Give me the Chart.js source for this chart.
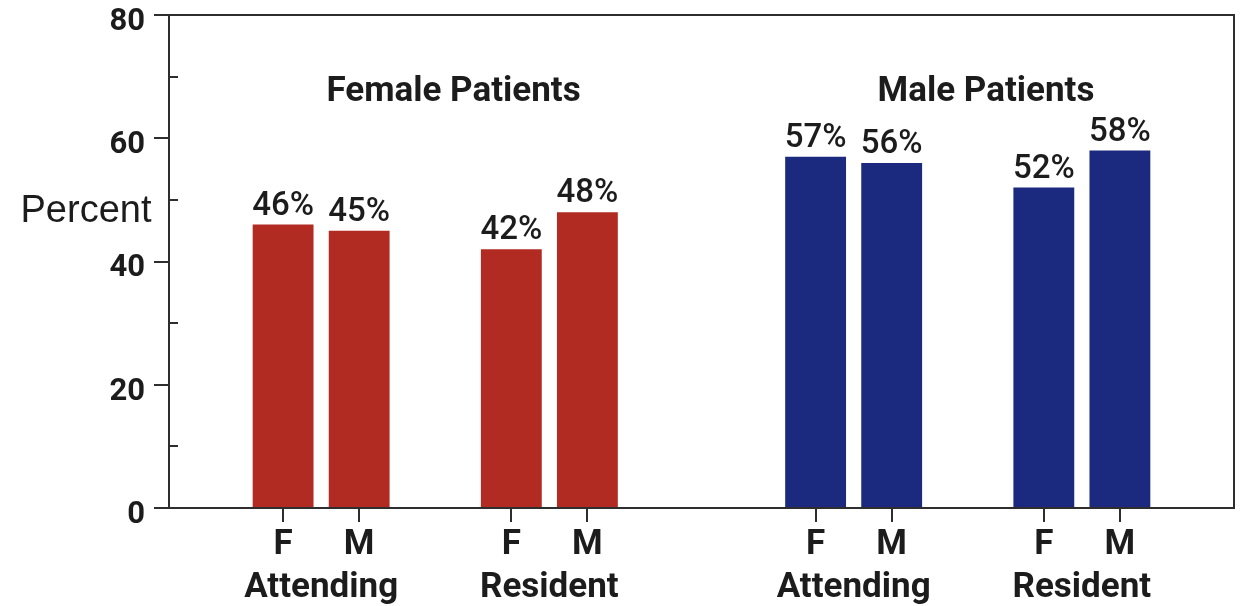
<!DOCTYPE html>
<html>
<head>
<meta charset="utf-8">
<script src="https://cdn.jsdelivr.net/npm/chart.js@4"></script>
<style>
  html, body { margin: 0; padding: 0; background: #ffffff; }
  #wrap { width: 1241px; height: 606px; }
</style>
</head>
<body>
<div id="wrap"><canvas id="chart" width="1241" height="606"></canvas></div>
<script>
// Patient groups, physician roles and physician sex
const patientGroups = ['Female Patients', 'Male Patients'];
const roles = ['Attending', 'Resident'];
const physicianSex = ['F', 'M'];

// Percent values: [Attending F, Attending M, Resident F, Resident M]
const femalePatientValues = [46, 45, 42, 48];
const malePatientValues = [57, 56, 52, 58];

const yTicks = [0, 20, 40, 60, 80];
const yMinorTicks = [10, 30, 50, 70];

const groupColors = ['#B22B23', '#1B2A7E'];
const inkColor = '#1c1c1c';
const axisColor = '#2e2e2e';
const boldFont = 'Roboto, "Liberation Sans", Arial, sans-serif';

// Build the category slots: gap, F, M, gap, F, M, gap | gap, F, M, gap, F, M, gap
const slotLabels = [];
const slotGroup = [];
const slotRole = [];
const seriesValues = [femalePatientValues, malePatientValues];
const datasetData = patientGroups.map(() => []);
patientGroups.forEach((g, gi) => {
  roles.forEach((r, ri) => {
    slotLabels.push(''); slotGroup.push(null); slotRole.push(null);
    datasetData.forEach(d => d.push(null));
    physicianSex.forEach((s, si) => {
      slotLabels.push(s); slotGroup.push(gi); slotRole.push(ri);
      datasetData.forEach((d, di) => d.push(di === gi ? seriesValues[gi][ri * 2 + si] : null));
    });
  });
  slotLabels.push(''); slotGroup.push(null); slotRole.push(null);
  datasetData.forEach(d => d.push(null));
});

// Extra drawing: frame, minor ticks, value labels, role labels, group titles, axis title
const decorations = {
  id: 'decorations',
  afterDraw(chart) {
    const { ctx, chartArea: a, scales: { x, y } } = chart;
    ctx.save();
    // frame top and right
    ctx.strokeStyle = axisColor;
    ctx.lineWidth = 2;
    ctx.beginPath();
    ctx.moveTo(a.left, a.top);
    ctx.lineTo(a.right, a.top);
    ctx.lineTo(a.right, a.bottom);
    ctx.stroke();
    // minor ticks pointing inward
    ctx.beginPath();
    yMinorTicks.forEach(v => {
      const py = Math.round(y.getPixelForValue(v));
      ctx.moveTo(a.left, py);
      ctx.lineTo(a.left + 9, py);
    });
    ctx.stroke();

    // value labels above bars
    ctx.fillStyle = inkColor;
    ctx.textAlign = 'center';
    ctx.textBaseline = 'alphabetic';
    ctx.font = '500 33px ' + boldFont;
    chart.data.datasets.forEach((ds, di) => {
      const meta = chart.getDatasetMeta(di);
      ds.data.forEach((v, i) => {
        if (v === null) return;
        const bar = meta.data[i];
        ctx.fillText(v + '%', bar.x, bar.y - 10);
      });
    });

    // role labels under each F/M pair
    ctx.font = 'bold 35px ' + boldFont;
    patientGroups.forEach((g, gi) => {
      roles.forEach((r, ri) => {
        const idx = slotLabels.map((l, i) => i).filter(i => slotGroup[i] === gi && slotRole[i] === ri);
        const cx = (x.getPixelForValue(idx[0]) + x.getPixelForValue(idx[idx.length - 1])) / 2;
        ctx.fillText(r, cx, 597);
      });
    });

    // group titles
    ctx.font = 'bold 35px ' + boldFont;
    patientGroups.forEach((g, gi) => {
      const idx = slotLabels.map((l, i) => i).filter(i => slotGroup[i] === gi);
      const mid = idx.reduce((s, i) => s + i, 0) / idx.length;
      ctx.fillText(g, x.getPixelForValue(mid + 0.24), y.getPixelForValue(66));
    });

    // axis title
    ctx.font = '38px "Liberation Sans", Arial, sans-serif';
    ctx.fillText('Percent', 86, 222);
    ctx.restore();
  }
};

new Chart(document.getElementById('chart'), {
  type: 'bar',
  data: {
    labels: slotLabels,
    datasets: patientGroups.map((g, gi) => ({
      label: g,
      data: datasetData[gi],
      backgroundColor: groupColors[gi],
      borderWidth: 0,
      barPercentage: 0.8,
      categoryPercentage: 1.0,
      grouped: false
    }))
  },
  options: {
    responsive: false,
    animation: false,
    events: [],
    layout: { padding: { top: 15, right: 7, left: 0, bottom: 0 } },
    plugins: { legend: { display: false }, tooltip: { enabled: false } },
    scales: {
      x: {
        offset: true,
        grid: {
          offset: false,
          drawOnChartArea: false,
          tickLength: 14,
          lineWidth: 2,
          color: ctx => (ctx.tick && ctx.tick.label) ? axisColor : 'rgba(0,0,0,0)'
        },
        border: { display: true, color: axisColor, width: 2 },
        ticks: {
          autoSkip: false,
          maxRotation: 0,
          padding: 2,
          color: inkColor,
          font: { family: boldFont, size: 35, weight: 'bold' }
        },
        afterFit: s => { s.height = 98; s.paddingLeft = 0; s.paddingRight = 0; }
      },
      y: {
        min: 0,
        max: 80,
        afterBuildTicks: s => { s.ticks = yTicks.map(v => ({ value: v })); },
        grid: { drawOnChartArea: false, tickLength: 15, lineWidth: 2, color: axisColor },
        border: { display: true, color: axisColor, width: 2 },
        ticks: {
          padding: 9,
          labelOffset: 7,
          color: inkColor,
          font: { family: boldFont, size: 31, weight: 'bold' }
        },
        afterFit: s => { s.width = 169; s.paddingTop = 0; s.paddingBottom = 0; }
      }
    }
  },
  plugins: [decorations]
});
</script>
</body>
</html>
